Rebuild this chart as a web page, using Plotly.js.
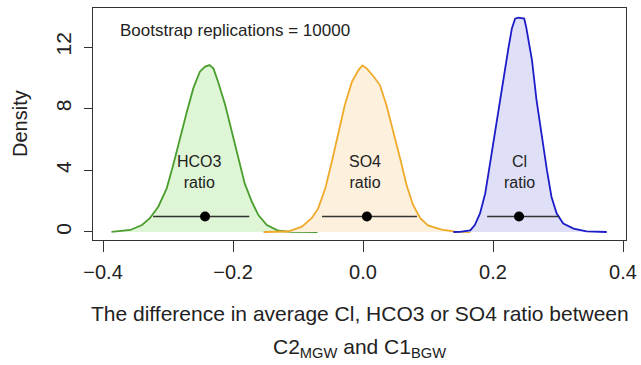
<!DOCTYPE html>
<html>
<head>
<meta charset="utf-8">
<script src="https://cdn.plot.ly/plotly-3.0.1.min.js"></script>
<style>html,body{margin:0;padding:0;background:#fff;}#chart{width:641px;height:365px;}</style>
</head>
<body>
<div id="chart"></div>
<script>
// Density curves
var hco3X = [-0.387, -0.358, -0.340, -0.328, -0.315, -0.302, -0.292, -0.282, -0.271, -0.261, -0.251, -0.243, -0.236, -0.230, -0.223, -0.212, -0.202, -0.192, -0.182, -0.171, -0.161, -0.148, -0.130, -0.110, -0.070];
var hco3Y = [0, 0.13, 0.45, 0.89, 1.64, 2.83, 4.34, 6.08, 7.8, 9.33, 10.4, 10.73, 10.83, 10.6, 9.75, 8.24, 6.5, 4.78, 3.15, 1.96, 1.1, 0.45, 0.08, 0.01, 0];

var so4X = [-0.153, -0.115, -0.094, -0.079, -0.069, -0.058, -0.048, -0.038, -0.028, -0.017, -0.007, -0.001, 0.006, 0.016, 0.026, 0.036, 0.047, 0.057, 0.067, 0.077, 0.088, 0.100, 0.121, 0.142, 0.165];
var so4Y = [0, 0.03, 0.35, 0.89, 1.53, 2.83, 4.56, 6.5, 8.24, 9.75, 10.5, 10.8, 10.6, 10.1, 9.53, 8.24, 6.5, 4.78, 3.05, 1.75, 0.89, 0.43, 0.15, 0.02, 0];

var clX = [0.139, 0.149, 0.165, 0.172, 0.180, 0.188, 0.193, 0.200, 0.208, 0.216, 0.224, 0.229, 0.234, 0.239, 0.244, 0.248, 0.251, 0.254, 0.260, 0.267, 0.275, 0.283, 0.290, 0.298, 0.308, 0.324, 0.344, 0.375];
var clY = [0, 0.01, 0.1, 0.45, 1.2, 2.5, 3.8, 5.7, 7.9, 10.05, 12.0, 13.2, 13.84, 13.9, 13.84, 13.84, 13.3, 12.64, 11.13, 8.53, 6.15, 3.99, 2.27, 1.2, 0.55, 0.22, 0.04, 0];

// Bootstrap means and interval bars
var seriesNames = ["HCO3", "SO4", "Cl"];
var means = [-0.243, 0.006, 0.240];
var ciLow = [-0.323, -0.063, 0.191];
var ciHigh = [-0.175, 0.083, 0.302];
var barLevel = [1, 1, 1];

// Labels
var labelText = ["HCO3<br>ratio", "SO4<br>ratio", "Cl<br>ratio"];
var labelX = [-0.251, 0.003, 0.240];
var labelY = [3.86, 3.86, 3.86];
var xTickVals = [-0.4, -0.2, 0.0, 0.2, 0.4];
var xTickText = ["\u22120.4", "\u22120.2", "0.0", "0.2", "0.4"];
var yTickVals = [0, 4, 8, 12];
var yTickText = ["0", "4", "8", "12"];
var xTitleLines = ["The difference in average Cl, HCO3 or SO4 ratio between", "C2<sub>MGW</sub> and C1<sub>BGW</sub>"];
var yTitle = "Density";
var noteText = "Bootstrap replications = 10000";

var lineColors = ["#4a9e2e", "#f0aa2a", "#1c1cc8"];
var fillColors = ["#def5d6", "#fdf0dc", "#dfdff8"];
var curvesX = [hco3X, so4X, clX];
var curvesY = [hco3Y, so4Y, clY];

var FONT = "Liberation Sans, Arial, sans-serif";
var traces = [];
for (var i = 0; i < 3; i++) {
  traces.push({
    x: curvesX[i], y: curvesY[i], type: "scatter", mode: "lines",
    fill: "tozeroy", fillcolor: fillColors[i],
    line: {color: lineColors[i], width: 1.8},
    hoverinfo: "skip", showlegend: false, name: seriesNames[i]
  });
}
for (var j = 0; j < 3; j++) {
  traces.push({
    x: [ciLow[j], ciHigh[j]], y: [barLevel[j], barLevel[j]],
    type: "scatter", mode: "lines",
    line: {color: "#333333", width: 1.5},
    hoverinfo: "skip", showlegend: false
  });
  traces.push({
    x: [means[j]], y: [barLevel[j]], type: "scatter", mode: "markers",
    marker: {color: "#000000", size: 10},
    hoverinfo: "skip", showlegend: false
  });
}

var annotations = [];
for (var k = 0; k < 3; k++) {
  annotations.push({
    x: labelX[k], y: labelY[k], xref: "x", yref: "y",
    text: labelText[k], showarrow: false,
    font: {family: FONT, size: 16, color: "#222222"},
    xanchor: "center", yanchor: "middle"
  });
}
annotations.push({
  x: 0.047, y: 0.905, xref: "paper", yref: "paper",
  text: noteText, showarrow: false,
  font: {family: FONT, size: 17, color: "#222222"},
  xanchor: "left", yanchor: "middle"
});
// x-axis title lines (plot area spans y 8..240 px)
annotations.push({
  x: 0.5, y: (240 - 313) / 232, xref: "paper", yref: "paper",
  text: xTitleLines[0], showarrow: false,
  font: {family: FONT, size: 21, color: "#222222"},
  xanchor: "center", yanchor: "middle"
});
annotations.push({
  x: 0.5, y: (240 - 348) / 232, xref: "paper", yref: "paper",
  text: xTitleLines[1], showarrow: false,
  font: {family: FONT, size: 21, color: "#222222"},
  xanchor: "center", yanchor: "middle"
});
annotations.push({
  x: (20 - 93) / 533, y: (240 - 124) / 232, xref: "paper", yref: "paper",
  text: yTitle, showarrow: false, textangle: -90,
  font: {family: FONT, size: 20, color: "#222222"},
  xanchor: "center", yanchor: "middle"
});

var layout = {
  width: 641, height: 365,
  margin: {l: 93, r: 15, t: 8, b: 125},
  paper_bgcolor: "#ffffff", plot_bgcolor: "#ffffff",
  font: {family: FONT, size: 17, color: "#222222"},
  xaxis: {
    range: [-0.4154, 0.4046], tickvals: xTickVals, ticktext: xTickText,
    showgrid: false, zeroline: false,
    showline: true, mirror: true, linecolor: "#333333", linewidth: 1,
    ticks: "outside", ticklen: 11, tickcolor: "#333333",
    ticklabelstandoff: 3,
    tickfont: {family: FONT, size: 20, color: "#222222"}
  },
  yaxis: {
    range: [-0.52, 14.53], tickvals: yTickVals, ticktext: yTickText,
    showgrid: false, zeroline: false,
    showline: true, mirror: true, linecolor: "#333333", linewidth: 1,
    ticks: "outside", ticklen: 8, tickcolor: "#333333", tickangle: -90,
    ticklabelstandoff: 5,
    tickfont: {family: FONT, size: 21, color: "#222222"}
  },
  annotations: annotations
};

Plotly.newPlot("chart", traces, layout, {displayModeBar: false, staticPlot: true});
</script>
</body>
</html>
